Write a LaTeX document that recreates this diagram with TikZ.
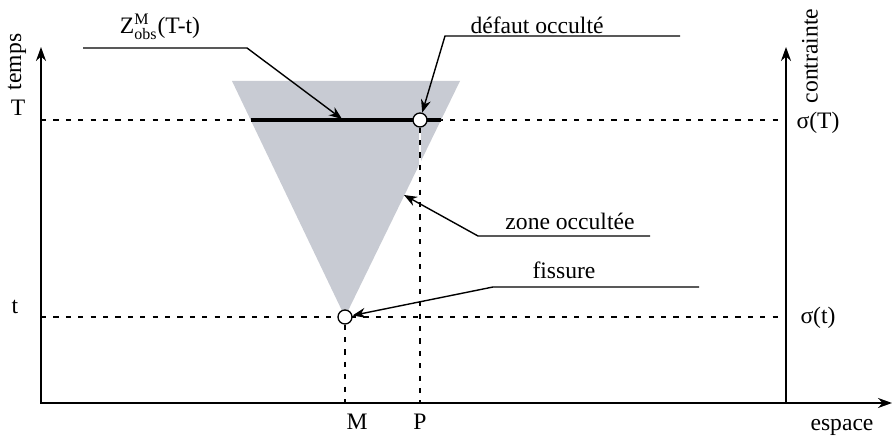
\documentclass[tikz,border=0pt]{standalone}
\usepackage{fontspec}
\setmainfont{Liberation Serif}
\usetikzlibrary{arrows.meta}
\definecolor{zonegray}{RGB}{200,203,211}
\begin{document}
\begin{tikzpicture}[x=0.5pt, y=-0.5pt,
    every node/.style={font=\fontsize{11.8}{14}\selectfont, inner sep=0pt},
    axisline/.style={line width=1pt},
    guide/.style={line width=0.7pt, dash pattern=on 2.6pt off 3.6pt},
    leader/.style={line width=0.7pt, -{Stealth[length=6.5pt, width=5pt]}},
    spot/.style={circle, draw, fill=white, line width=0.65pt, minimum size=7pt}]
    \useasboundingbox (0,0) rectangle (892,442);
    % Reference points
    \coordinate (O) at (41,403);
    \coordinate (R) at (786,403);
    \coordinate (ytip) at (41,47);
    \coordinate (xtip) at (892,403);
    \coordinate (ctip) at (786,47);
    \coordinate (TL) at (41,120);  \coordinate (TR) at (782,120);
    \coordinate (tL) at (41,317);  \coordinate (tR) at (782,317);
    \coordinate (Mfoot) at (345,403);
    \coordinate (Pfoot) at (420,403);
    % Dashed levels T and t
    \draw[guide] (TL) -- (TR);
    \draw[guide] (tL) -- (tR);
    % Occulted zone
    \fill[zonegray] (232,81) -- (460,81) -- (345,317) -- cycle;
    % Z_obs segment at level T
    \draw[line width=2pt] (250.7,120) coordinate (Za) -- (441,120) coordinate (Zb);
    % Points
    \node[spot] (defaut) at (420,120) {};
    \node[spot] (fiss) at (345,317) {};
    % Vertical guides
    \draw[white, line width=0.7pt] (defaut) -- (Pfoot);
    \draw[guide] (defaut) -- (Pfoot);
    \draw[guide] (fiss) -- (Mfoot);
    % Axes
    \draw[axisline, {Stealth[length=7pt, width=5pt]}-{Stealth[length=7pt, width=5pt]}]
        (ytip) -- (O) -- (xtip);
    \draw[axisline, -{Stealth[length=7pt, width=5pt]}] (R) -- (ctip);
    % Axis labels
    \node[rotate=90] (temps) at (17,62) {temps};
    \node[rotate=90] (contr) at (810,56) {contrainte};
    \node (espace) at (842,427) {espace};
    \node (T) at (18,108) {T};
    \node (t) at (15,307) {t};
    \node (sT) at (818,123) {σ(T)};
    \node (st) at (818,318) {σ(t)};
    \node (M) at (357,422) {M};
    \node (P) at (420,422) {P};
    % Leaders
    \node (zlab) at (160,27) {Z$^{\mbox{\fontsize{8}{9}\selectfont M}}_{\mbox{\fontsize{8}{9}\selectfont obs}}$(T-t)};
    \coordinate (zs) at (83,48);  \coordinate (zk) at (247,48);  \coordinate (zt) at (342,119);
    \draw[leader] (zs) -- (zk) -- (zt);
    \node (dlab) at (537,25) {défaut occulté};
    \coordinate (ds) at (680,36);  \coordinate (dk) at (445,36);
    \draw[leader] (ds) -- (dk) -- (defaut);
    \node (olab) at (570,221) {zone occultée};
    \coordinate (os) at (650,236);  \coordinate (ok) at (478,236);  \coordinate (ot) at (404,195);
    \draw[leader] (os) -- (ok) -- (ot);
    \node (flab) at (564,270) {fissure};
    \coordinate (fs) at (699,287);  \coordinate (fk) at (493,287);
    \draw[leader] (fs) -- (fk) -- (fiss);
\end{tikzpicture}
\end{document}
